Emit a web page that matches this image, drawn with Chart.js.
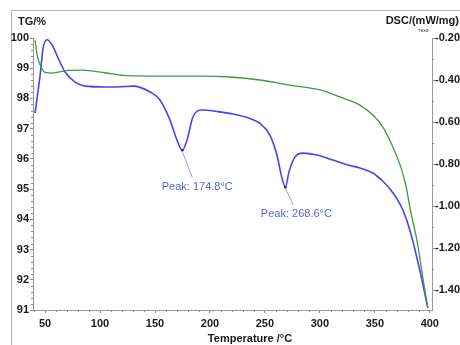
<!DOCTYPE html>
<html><head><meta charset="utf-8">
<script src="https://cdn.jsdelivr.net/npm/chart.js@4"></script>
<style>html,body{margin:0;padding:0;background:#fff}</style>
</head><body>
<canvas id="c" width="460" height="345" style="width:460px;height:345px;display:block"></canvas>
<script>
// ---- data ----
const tgTemp = [40.9, 42.7, 45.5, 50, 56.4, 70.9, 83.6, 104.5, 120.9, 145.5, 190.9, 218.2, 245.5, 272.7, 300, 318.2, 336.4, 348.2, 357.3, 366.4, 374.5, 379.1, 381.8, 388.2, 393.6, 398.2];
const tgValue = [99.93, 99.44, 99.11, 98.86, 98.84, 98.93, 98.94, 98.85, 98.76, 98.74, 98.74, 98.71, 98.61, 98.44, 98.28, 98.05, 97.78, 97.45, 97.05, 96.39, 95.63, 94.97, 94.41, 93.32, 92.09, 91.07];
const dscTemp = [40.9, 45.5, 48.2, 51.8, 56.4, 61.8, 68.2, 77.3, 86.4, 104.5, 115.5, 130, 145.5, 154.5, 163.6, 170, 174.8, 179.1, 184.5, 192.7, 206.4, 218.2, 236.4, 245.5, 254.5, 260.9, 265.5, 268.6, 272, 277.3, 284.5, 297.3, 311.8, 325.5, 336.4, 348.2, 357.3, 364, 370, 375.5, 381.8, 390.9, 398.2];
const dscValue = [-0.557, -0.376, -0.248, -0.208, -0.233, -0.295, -0.362, -0.41, -0.429, -0.433, -0.433, -0.429, -0.457, -0.495, -0.59, -0.686, -0.735, -0.686, -0.576, -0.543, -0.55, -0.559, -0.583, -0.607, -0.662, -0.757, -0.867, -0.91, -0.835, -0.767, -0.748, -0.757, -0.781, -0.805, -0.819, -0.843, -0.882, -0.92, -0.965, -1.019, -1.114, -1.305, -1.486];
const tempTicks = [50, 100, 150, 200, 250, 300, 350, 400];
const tgTicks = [91, 92, 93, 94, 95, 96, 97, 98, 99, 100];
const dscTicks = [-1.4, -1.2, -1.0, -0.8, -0.6, -0.4, -0.2];
const peakTemps = [174.8, 268.6];
const peakValues = [-0.735, -0.91];
const peakLabels = ['Peak: 174.8°C', 'Peak: 268.6°C'];

// ---- styles ----
const FONT = "'Liberation Sans',Arial,sans-serif";
const GREEN = '#3f9a3a';
const BLUE = '#4444f2';
const AXIS = '#999';
const peakOffsets = [{lx: 10, ly: 27, tx: 15, ty: 37}, {lx: 8, ly: 18, tx: 11, ty: 27}];

const decor = {
  id: 'decor',
  beforeDraw(chart) {
    const ctx = chart.ctx;
    ctx.save();
    ctx.strokeStyle = '#b5b5b5';
    ctx.lineWidth = 1;
    ctx.beginPath();
    ctx.moveTo(11.5, 345); ctx.lineTo(11.5, 10.5); ctx.lineTo(460, 10.5);
    ctx.stroke();
    ctx.restore();
  },
  afterDraw(chart) {
    const ctx = chart.ctx;
    const sx = chart.scales.x, sy = chart.scales.y, sy1 = chart.scales.y1;
    const ca = chart.chartArea;
    ctx.save();
    ctx.strokeStyle = '#8a8a8a';
    ctx.lineWidth = 1;
    ctx.beginPath();
    for (let v = 91; v <= 100.001; v += 0.2) {
      if (Math.abs(v - Math.round(v)) < 1e-6) continue;
      const p = Math.round(sy.getPixelForValue(v)) + 0.5;
      ctx.moveTo(ca.left - 2, p); ctx.lineTo(ca.left, p);
    }
    for (let v = -1.4; v <= -0.2; v += 0.1) {
      const r = Math.round(v * 10);
      if (r % 2 === 0) continue;
      const p = Math.round(sy1.getPixelForValue(v)) + 0.5;
      ctx.moveTo(ca.right, p); ctx.lineTo(ca.right + 2, p);
    }
    for (let v = 40; v <= 400; v += 10) {
      if (v % 50 === 0) continue;
      const p = Math.round(sx.getPixelForValue(v)) + 0.5;
      ctx.moveTo(p, ca.bottom); ctx.lineTo(p, ca.bottom + 2);
    }
    ctx.stroke();

    // axis titles
    ctx.fillStyle = '#1a1a1a';
    ctx.font = 'bold 11px ' + FONT;
    ctx.textBaseline = 'middle';
    ctx.textAlign = 'left';
    ctx.fillText('TG/%', 18, 22);
    ctx.textAlign = 'right';
    ctx.fillText('DSC/(mW/mg)', 459, 21);
    ctx.textAlign = 'center';
    ctx.textBaseline = 'alphabetic';
    ctx.fillText('Temperature /°C', 250, 342);
    ctx.textBaseline = 'middle';
    ctx.font = '5px ' + FONT;
    ctx.textAlign = 'left';
    ctx.fillText('↑exo', 418, 31);

    // peak annotations
    ctx.font = '11px ' + FONT;
    ctx.textAlign = 'center';
    for (let i = 0; i < peakTemps.length; i++) {
      const px = sx.getPixelForValue(peakTemps[i]);
      const py = sy1.getPixelForValue(peakValues[i]);
      const o = peakOffsets[i];
      ctx.strokeStyle = '#9aa0ee';
      ctx.beginPath();
      ctx.moveTo(px, py + 1); ctx.lineTo(px + o.lx, py + o.ly);
      ctx.stroke();
      ctx.fillStyle = '#333';
      ctx.beginPath(); ctx.arc(px, py, 1.3, 0, Math.PI * 2); ctx.fill();
      ctx.fillStyle = '#5566dd';
      ctx.fillText(peakLabels[i], px + o.tx, py + o.ty);
    }
    ctx.restore();
  }
};

const tickFont = {family: FONT, size: 11, weight: 'bold'};

new Chart(document.getElementById('c'), {
  type: 'line',
  data: {
    datasets: [
      {
        label: 'TG',
        data: tgTemp.map((t, i) => ({x: t, y: tgValue[i]})),
        yAxisID: 'y',
        borderColor: GREEN,
        borderWidth: 1.3,
        pointRadius: 0,
        cubicInterpolationMode: 'monotone',
        fill: false
      },
      {
        label: 'DSC',
        data: dscTemp.map((t, i) => ({x: t, y: dscValue[i]})),
        yAxisID: 'y1',
        borderColor: BLUE,
        borderWidth: 1.6,
        pointRadius: 0,
        cubicInterpolationMode: 'monotone',
        fill: false
      }
    ]
  },
  options: {
    responsive: false,
    animation: false,
    devicePixelRatio: 1,
    layout: {padding: {left: 0, right: 0, top: 38, bottom: 0}},
    plugins: {legend: {display: false}, tooltip: {enabled: false}},
    scales: {
      x: {
        type: 'linear', min: 39, max: 402,
        afterBuildTicks: s => { s.ticks = tempTicks.map(v => ({value: v})); },
        afterFit: s => { s.height = 35; },
        grid: {drawOnChartArea: false, tickLength: 3, color: '#8a8a8a'},
        border: {color: AXIS},
        ticks: {padding: 4, color: '#1a1a1a', font: tickFont, maxRotation: 0}
      },
      y: {
        position: 'left', min: 91, max: 100,
        afterBuildTicks: s => { s.ticks = tgTicks.map(v => ({value: v})); },
        afterFit: s => { s.width = 33; },
        grid: {drawOnChartArea: false, tickLength: 3, color: '#8a8a8a'},
        border: {color: AXIS},
        ticks: {padding: 1, color: '#1a1a1a', font: tickFont}
      },
      y1: {
        position: 'right', min: -1.495, max: -0.2,
        afterBuildTicks: s => { s.ticks = dscTicks.map(v => ({value: v})); },
        afterFit: s => { s.width = 28; },
        grid: {drawOnChartArea: false, tickLength: 3, color: '#8a8a8a'},
        border: {color: AXIS},
        ticks: {padding: 0, color: '#1a1a1a', font: tickFont, callback: v => v.toFixed(2)}
      }
    }
  },
  plugins: [decor]
});
</script>
</body></html>
